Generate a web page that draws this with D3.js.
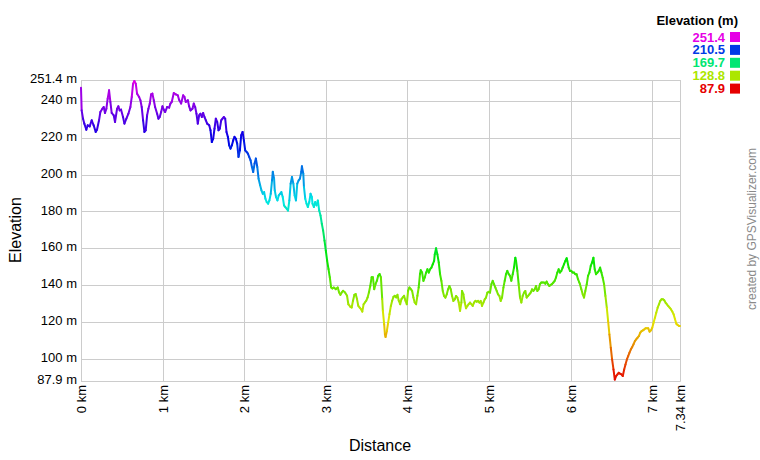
<!DOCTYPE html>
<html>
<head>
<meta charset="utf-8">
<script src="https://cdn.jsdelivr.net/npm/d3@7"></script>
<style>
  html, body { margin: 0; padding: 0; background: #fff; }
  svg { display: block; font-family: Arial, "Liberation Sans", sans-serif; }
</style>
</head>
<body>
<svg id="chart" width="760" height="460"></svg>
<script>
// ---- data ----
const profile = [
[0,247.2],[0.008,234.9],[0.025,230.4],[0.041,227.7],[0.065,224.4],[0.082,226.8],[0.106,226.2],[0.131,229.5],
[0.155,226.8],[0.180,223.2],[0.196,224.4],[0.221,229.5],[0.237,234.0],[0.262,235.8],[0.278,236.7],[0.294,233.5],
[0.311,235.8],[0.327,241.3],[0.344,245.8],[0.360,239.5],[0.376,233.5],[0.401,232.2],[0.417,228.6],[0.442,235.8],
[0.458,237.1],[0.474,234.9],[0.491,235.3],[0.515,231.3],[0.532,227.7],[0.556,230.4],[0.581,233.1],[0.605,236.7],
[0.622,242.2],[0.638,249.4],[0.654,250.9],[0.671,249.4],[0.687,244.0],[0.712,242.2],[0.728,240.4],[0.744,236.7],
[0.761,229.5],[0.777,223.2],[0.793,224.1],[0.810,232.2],[0.826,235.8],[0.843,238.6],[0.859,243.6],[0.875,244.0],
[0.892,240.4],[0.908,236.7],[0.933,233.1],[0.949,230.4],[0.965,231.3],[0.982,234.0],[0.998,237.1],[1.014,235.3],
[1.031,234.0],[1.055,236.7],[1.080,236.4],[1.096,238.6],[1.112,239.5],[1.137,244.3],[1.162,243.6],[1.186,243.1],
[1.202,240.7],[1.227,238.6],[1.252,243.1],[1.268,242.2],[1.284,239.5],[1.309,240.4],[1.325,237.1],[1.342,234.9],
[1.366,235.8],[1.382,238.6],[1.399,236.7],[1.415,233.1],[1.431,227.7],[1.448,232.2],[1.464,233.1],[1.481,231.3],
[1.497,233.5],[1.513,231.3],[1.530,229.5],[1.546,227.7],[1.571,226.8],[1.587,224.1],[1.603,217.7],[1.620,219.5],
[1.636,225.0],[1.652,230.4],[1.669,228.6],[1.685,224.1],[1.701,225.0],[1.718,229.5],[1.734,230.4],[1.751,231.3],
[1.767,230.4],[1.783,223.2],[1.800,220.5],[1.816,215.9],[1.832,214.1],[1.849,215.9],[1.865,218.6],[1.881,220.5],
[1.898,219.5],[1.914,216.8],[1.930,209.6],[1.947,213.2],[1.963,221.4],[1.980,223.2],[1.996,218.6],[2.012,213.2],
[2.029,212.3],[2.045,211.4],[2.061,209.6],[2.078,207.8],[2.094,204.2],[2.110,201.4],[2.127,206.0],[2.143,208.7],
[2.160,204.2],[2.176,197.8],[2.195,194.2],[2.211,191.5],[2.228,189.6],[2.244,190.5],[2.260,186.9],[2.276,185.1],
[2.293,184.2],[2.309,186.0],[2.325,189.6],[2.341,196.9],[2.350,201.5],[2.366,197.8],[2.374,191.5],[2.390,187.8],
[2.407,186.0],[2.423,188.7],[2.439,189.6],[2.455,190.5],[2.472,187.8],[2.488,183.3],[2.504,182.4],[2.520,181.5],
[2.537,180.5],[2.553,186.0],[2.569,195.1],[2.585,198.7],[2.602,195.1],[2.618,188.7],[2.634,186.0],[2.650,195.1],
[2.667,196.9],[2.683,197.8],[2.699,201.5],[2.707,204.5],[2.724,200.5],[2.732,193.3],[2.748,186.9],[2.764,184.2],
[2.780,182.4],[2.797,185.1],[2.813,189.6],[2.829,187.8],[2.837,184.2],[2.854,182.4],[2.870,185.1],[2.886,183.3],
[2.902,186.0],[2.919,180.5],[2.935,177.8],[2.951,173.3],[2.967,169.6],[2.984,164.2],[3.000,158.7],[3.016,153.3],
[3.033,148.7],[3.049,144.2],[3.065,138.7],[3.081,138.2],[3.098,138.7],[3.122,137.8],[3.146,138.7],[3.163,136.0],
[3.179,134.7],[3.195,136.0],[3.211,136.9],[3.236,136.0],[3.260,134.2],[3.276,129.6],[3.301,128.2],[3.317,127.8],
[3.333,131.5],[3.350,134.7],[3.366,135.1],[3.382,132.4],[3.398,128.7],[3.415,127.8],[3.431,126.9],[3.447,125.6],
[3.463,129.6],[3.480,130.6],[3.496,131.5],[3.512,133.3],[3.528,136.0],[3.545,139.6],[3.561,144.2],[3.577,144.2],
[3.593,137.8],[3.610,140.6],[3.626,142.4],[3.642,145.1],[3.659,146.0],[3.675,144.2],[3.691,132.4],[3.699,126.0],
[3.715,118.7],[3.724,113.3],[3.732,111.8],[3.748,115.1],[3.764,119.6],[3.780,124.2],[3.797,128.7],[3.813,131.5],
[3.829,133.6],[3.846,134.2],[3.862,133.3],[3.878,134.7],[3.894,131.5],[3.911,129.6],[3.927,132.4],[3.943,133.3],
[3.959,134.2],[3.976,131.5],[3.992,129.6],[4.008,136.9],[4.024,138.7],[4.041,137.8],[4.057,136.9],[4.073,133.3],
[4.089,130.6],[4.106,129.6],[4.122,134.2],[4.138,138.7],[4.154,146.0],[4.163,148.1],[4.180,146.8],[4.196,142.3],
[4.212,144.1],[4.229,146.8],[4.245,148.6],[4.261,146.8],[4.278,148.6],[4.294,149.5],[4.310,151.3],[4.327,153.1],
[4.335,156.7],[4.351,160.0],[4.367,156.7],[4.384,152.2],[4.400,145.9],[4.416,142.3],[4.433,136.8],[4.449,134.1],
[4.465,133.2],[4.482,135.0],[4.498,137.7],[4.514,139.5],[4.531,137.7],[4.547,134.1],[4.563,131.4],[4.580,132.3],
[4.596,134.1],[4.612,133.2],[4.629,130.5],[4.645,126.0],[4.661,130.5],[4.669,136.8],[4.686,135.0],[4.702,130.5],
[4.718,127.4],[4.735,128.7],[4.751,129.6],[4.767,130.5],[4.784,129.6],[4.800,128.7],[4.816,130.5],[4.833,131.4],
[4.849,131.0],[4.865,131.4],[4.882,130.5],[4.898,131.4],[4.914,128.7],[4.931,130.5],[4.947,132.3],[4.963,133.2],
[4.980,135.9],[4.996,136.3],[5.012,135.9],[5.029,140.5],[5.045,142.3],[5.061,140.5],[5.078,138.6],[5.094,136.8],
[5.110,135.0],[5.127,134.1],[5.143,131.4],[5.159,133.2],[5.176,138.6],[5.192,142.3],[5.208,145.9],[5.224,147.7],
[5.241,145.9],[5.257,145.0],[5.273,142.3],[5.290,145.9],[5.306,149.5],[5.322,154.9],[5.331,153.1],[5.347,147.7],
[5.363,140.5],[5.380,133.2],[5.396,130.5],[5.412,134.1],[5.429,135.9],[5.445,136.8],[5.461,133.2],[5.478,134.1],
[5.494,135.0],[5.510,135.9],[5.527,137.7],[5.543,136.8],[5.559,137.7],[5.576,139.5],[5.592,136.8],[5.608,137.7],
[5.624,140.5],[5.641,141.4],[5.657,141.4],[5.673,141.4],[5.690,140.8],[5.706,141.9],[5.722,140.5],[5.739,139.5],
[5.755,140.1],[5.771,140.5],[5.788,141.4],[5.804,142.3],[5.820,144.1],[5.837,146.8],[5.853,148.6],[5.869,146.8],
[5.886,147.7],[5.902,149.5],[5.918,151.3],[5.935,153.1],[5.951,154.6],[5.959,153.1],[5.976,149.5],[5.992,147.7],
[6.008,147.7],[6.024,146.8],[6.041,146.8],[6.057,145.9],[6.073,145.9],[6.090,143.2],[6.106,141.4],[6.114,140.5],
[6.131,137.7],[6.148,135.0],[6.164,133.2],[6.180,136.8],[6.197,140.4],[6.213,145.0],[6.230,146.8],[6.246,150.4],
[6.262,152.2],[6.279,154.9],[6.295,148.6],[6.311,145.9],[6.328,146.8],[6.344,147.7],[6.361,149.5],[6.377,146.8],
[6.393,144.0],[6.410,140.4],[6.426,134.1],[6.443,127.7],[6.459,120.5],[6.475,113.2],[6.492,106.0],[6.508,99.6],
[6.525,94.2],[6.541,88.7],[6.557,90.6],[6.574,91.5],[6.590,92.4],[6.607,91.8],[6.623,91.5],[6.639,90.6],
[6.656,94.2],[6.672,96.9],[6.689,99.6],[6.705,101.4],[6.721,103.3],[6.738,105.1],[6.754,106.3],[6.770,107.8],
[6.787,109.6],[6.803,110.5],[6.820,111.4],[6.836,112.3],[6.852,114.1],[6.869,115.0],[6.885,115.4],[6.902,115.9],
[6.918,116.5],[6.934,116.5],[6.951,116.5],[6.967,114.7],[6.984,115.4],[7.000,116.8],[7.016,119.6],[7.033,122.3],
[7.049,125.0],[7.066,127.7],[7.082,129.5],[7.098,131.4],[7.115,132.3],[7.131,132.3],[7.148,131.7],[7.164,130.4],
[7.180,129.5],[7.197,128.6],[7.213,127.7],[7.230,126.8],[7.246,125.6],[7.262,124.1],[7.279,121.4],[7.295,119.0],
[7.311,118.3],[7.328,117.8],[7.340,117.8]
];
const xTicks = [0, 1, 2, 3, 4, 5, 6, 7, 7.34];
const yTicks = [251.4, 240, 220, 200, 180, 160, 140, 120, 100, 87.9];
const legendValues = [251.4, 210.5, 169.7, 128.8, 87.9];
const legendTitle = "Elevation (m)";
const xTitle = "Distance";
const yTitle = "Elevation";
const credit = "created by GPSVisualizer.com";

// ---- layout ----
(function () {
const svg = d3.select("#chart");
const pL = 81, pR = 680, pT = 80, pB = 381;
const x = d3.scaleLinear().domain([0, 7.34]).range([pL, pR]);
const y = d3.scaleLinear().domain([87.9, 251.4]).range([pB, pT]);
const hue = d3.scaleLinear().domain([87.9, 251.4]).range([0, 300]);
const col = v => d3.hsl(hue(v), 1, 0.45).formatHex();
const fmtY = v => (Number.isInteger(v) ? v : v.toFixed(1)) + " m";
const fmtX = v => v + " km";
const FONT = "Arial, 'Liberation Sans', sans-serif";

svg.append("rect").attr("width", 760).attr("height", 460).attr("fill", "#fff");

const grid = "#cccccc";
const gy = svg.append("g").attr("transform", `translate(${pL},0)`)
  .call(d3.axisLeft(y).tickValues(yTicks).tickSize(-(pR - pL)).tickFormat(fmtY).tickPadding(4));
gy.select(".domain").attr("stroke", grid);
gy.selectAll(".tick line").attr("stroke", grid).attr("shape-rendering", "crispEdges");
gy.selectAll(".tick text").attr("font-size", 13).attr("fill", "#000")
  .attr("font-family", FONT).attr("dy", "0.2em");

const gx = svg.append("g").attr("transform", `translate(0,${pB})`)
  .call(d3.axisBottom(x).tickValues(xTicks).tickSize(-(pB - pT)).tickFormat(fmtX).tickPadding(3));
gx.select(".domain").attr("stroke", grid);
gx.selectAll(".tick line").attr("stroke", grid).attr("shape-rendering", "crispEdges");
gx.selectAll(".tick text").attr("font-size", 13).attr("fill", "#000")
  .attr("font-family", FONT)
  .attr("transform", "rotate(-90)").attr("text-anchor", "end")
  .attr("x", -4).attr("y", 0).attr("dy", "0.35em");

const segs = d3.pairs(profile);
svg.append("g").selectAll("line").data(segs).join("line")
  .attr("x1", d => x(d[0][0])).attr("y1", d => y(d[0][1]))
  .attr("x2", d => x(d[1][0])).attr("y2", d => y(d[1][1]))
  .attr("stroke", d => col((d[0][1] + d[1][1]) / 2))
  .attr("stroke-width", 2).attr("stroke-linecap", "round");

svg.append("text").attr("x", 380).attr("y", 451).attr("text-anchor", "middle")
  .attr("font-size", 16).attr("fill", "#000").text(xTitle);
svg.append("text").attr("transform", "translate(21,230) rotate(-90)").attr("text-anchor", "middle")
  .attr("font-size", 16).attr("fill", "#000").text(yTitle);
svg.append("text").attr("transform", "translate(756,229) rotate(-90)").attr("text-anchor", "middle")
  .attr("font-size", 12).attr("fill", "#8a8a8a").text(credit);

svg.append("text").attr("x", 738).attr("y", 25).attr("text-anchor", "end")
  .attr("font-size", 13).attr("font-weight", "bold").attr("fill", "#000").text(legendTitle);
const lg = svg.append("g").selectAll("g").data(legendValues).join("g")
  .attr("transform", (d, i) => `translate(0,${37 + i * 12.9})`);
lg.append("text").attr("x", 725).attr("y", 4.5).attr("text-anchor", "end")
  .attr("font-size", 13).attr("font-weight", "bold").attr("fill", d => col(d)).text(d => d.toFixed(1));
lg.append("rect").attr("x", 730).attr("y", -5).attr("width", 10).attr("height", 10)
  .attr("fill", d => col(d));
})();
</script>
</body>
</html>
